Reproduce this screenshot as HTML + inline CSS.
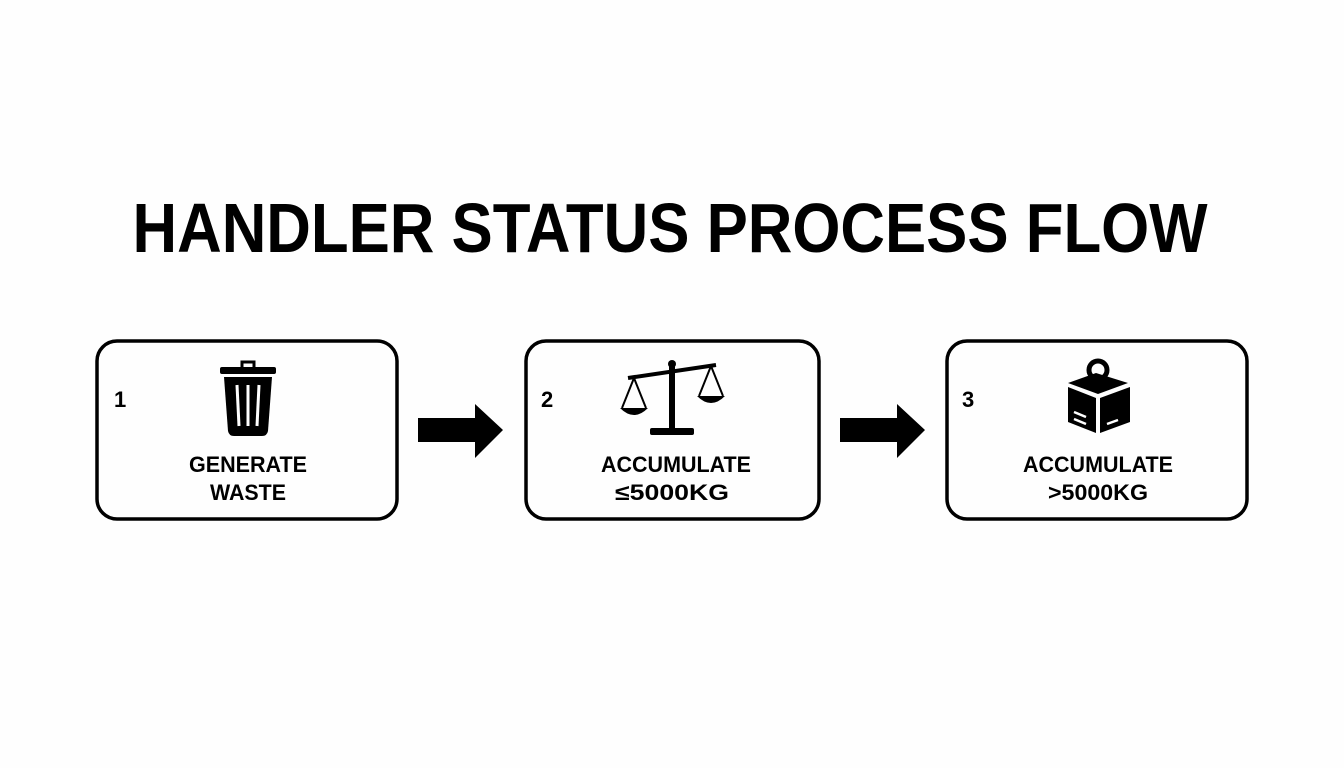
<!DOCTYPE html>
<html><head><meta charset="utf-8"><style>html,body{margin:0;padding:0;background:#fff}svg{display:block}</style></head>
<body>
<svg width="1344" height="768" viewBox="0 0 1344 768" xmlns="http://www.w3.org/2000/svg" font-family="Liberation Sans, sans-serif" font-weight="bold">
<rect width="1344" height="768" fill="#fefefe"/>
<text x="670" y="252" font-size="70" text-anchor="middle" textLength="1075" lengthAdjust="spacingAndGlyphs">HANDLER STATUS PROCESS FLOW</text>
<g fill="none" stroke="#000" stroke-width="3.5">
<rect x="97" y="341" width="300" height="178" rx="20"/>
<rect x="526" y="341" width="293" height="178" rx="20"/>
<rect x="947" y="341" width="300" height="178" rx="20"/>
</g>
<!-- arrows -->
<polygon points="418,418 475,418 475,404 503,430 475,458 475,442 418,442"/>
<polygon points="840,418 897,418 897,404 925,430 897,458 897,442 840,442"/>
<!-- numbers -->
<text x="114" y="407" font-size="22">1</text>
<text x="541" y="407" font-size="22">2</text>
<text x="962" y="407" font-size="22">3</text>
<!-- labels -->
<g font-size="22" text-anchor="middle">
<text x="248" y="472" textLength="118" lengthAdjust="spacingAndGlyphs">GENERATE</text>
<text x="248" y="500" textLength="76" lengthAdjust="spacingAndGlyphs">WASTE</text>
<text x="676" y="472" textLength="150" lengthAdjust="spacingAndGlyphs">ACCUMULATE</text>
<text x="672" y="500" textLength="114" lengthAdjust="spacingAndGlyphs">≤5000KG</text>
<text x="1098" y="472" textLength="150" lengthAdjust="spacingAndGlyphs">ACCUMULATE</text>
<text x="1098" y="500" textLength="100" lengthAdjust="spacingAndGlyphs">&gt;5000KG</text>
</g>
<!-- trash icon -->
<g>
<path d="M242,368 v-6 h12 v6" fill="none" stroke="#000" stroke-width="3"/>
<rect x="220" y="367" width="56" height="7" rx="2"/>
<path d="M224,377 h48 l-4,54 q-1,5 -6,5 h-28 q-5,0 -6,-5 z"/>
<g stroke="#fff" stroke-width="3"><line x1="237" y1="385" x2="239" y2="426"/><line x1="248" y1="385" x2="248" y2="426"/><line x1="259" y1="385" x2="257" y2="426"/></g>
</g>
<!-- scale icon -->
<g>
<circle cx="672" cy="364" r="4"/>
<rect x="669" y="364" width="6" height="66"/>
<rect x="650" y="428" width="44" height="7" rx="2"/>
<line x1="628" y1="378" x2="716" y2="365" stroke="#000" stroke-width="4"/>
<g fill="none" stroke="#000" stroke-width="2"><path d="M634,378 l-12,30 M634,378 l12,30 M711,366 l-12,30 M711,366 l12,30"/></g>
<path d="M620,408 h28 q-14,14 -28,0 z"/>
<path d="M697,396 h28 q-14,14 -28,0 z"/>
</g>
<!-- box icon -->
<g>
<circle cx="1098" cy="370" r="9" fill="none" stroke="#000" stroke-width="5"/>
<polygon points="1068,383 1096,373 1128,383 1098,394"/>
<polygon points="1068,387 1096,398 1096,433 1068,422"/>
<polygon points="1100,398 1130,387 1130,422 1100,433"/>
<g stroke="#fff" stroke-width="2.5"><line x1="1074" y1="412" x2="1086" y2="417"/><line x1="1074" y1="419" x2="1086" y2="424"/><line x1="1107" y1="424" x2="1118" y2="420"/></g>
</g>
</svg>
</body></html>
